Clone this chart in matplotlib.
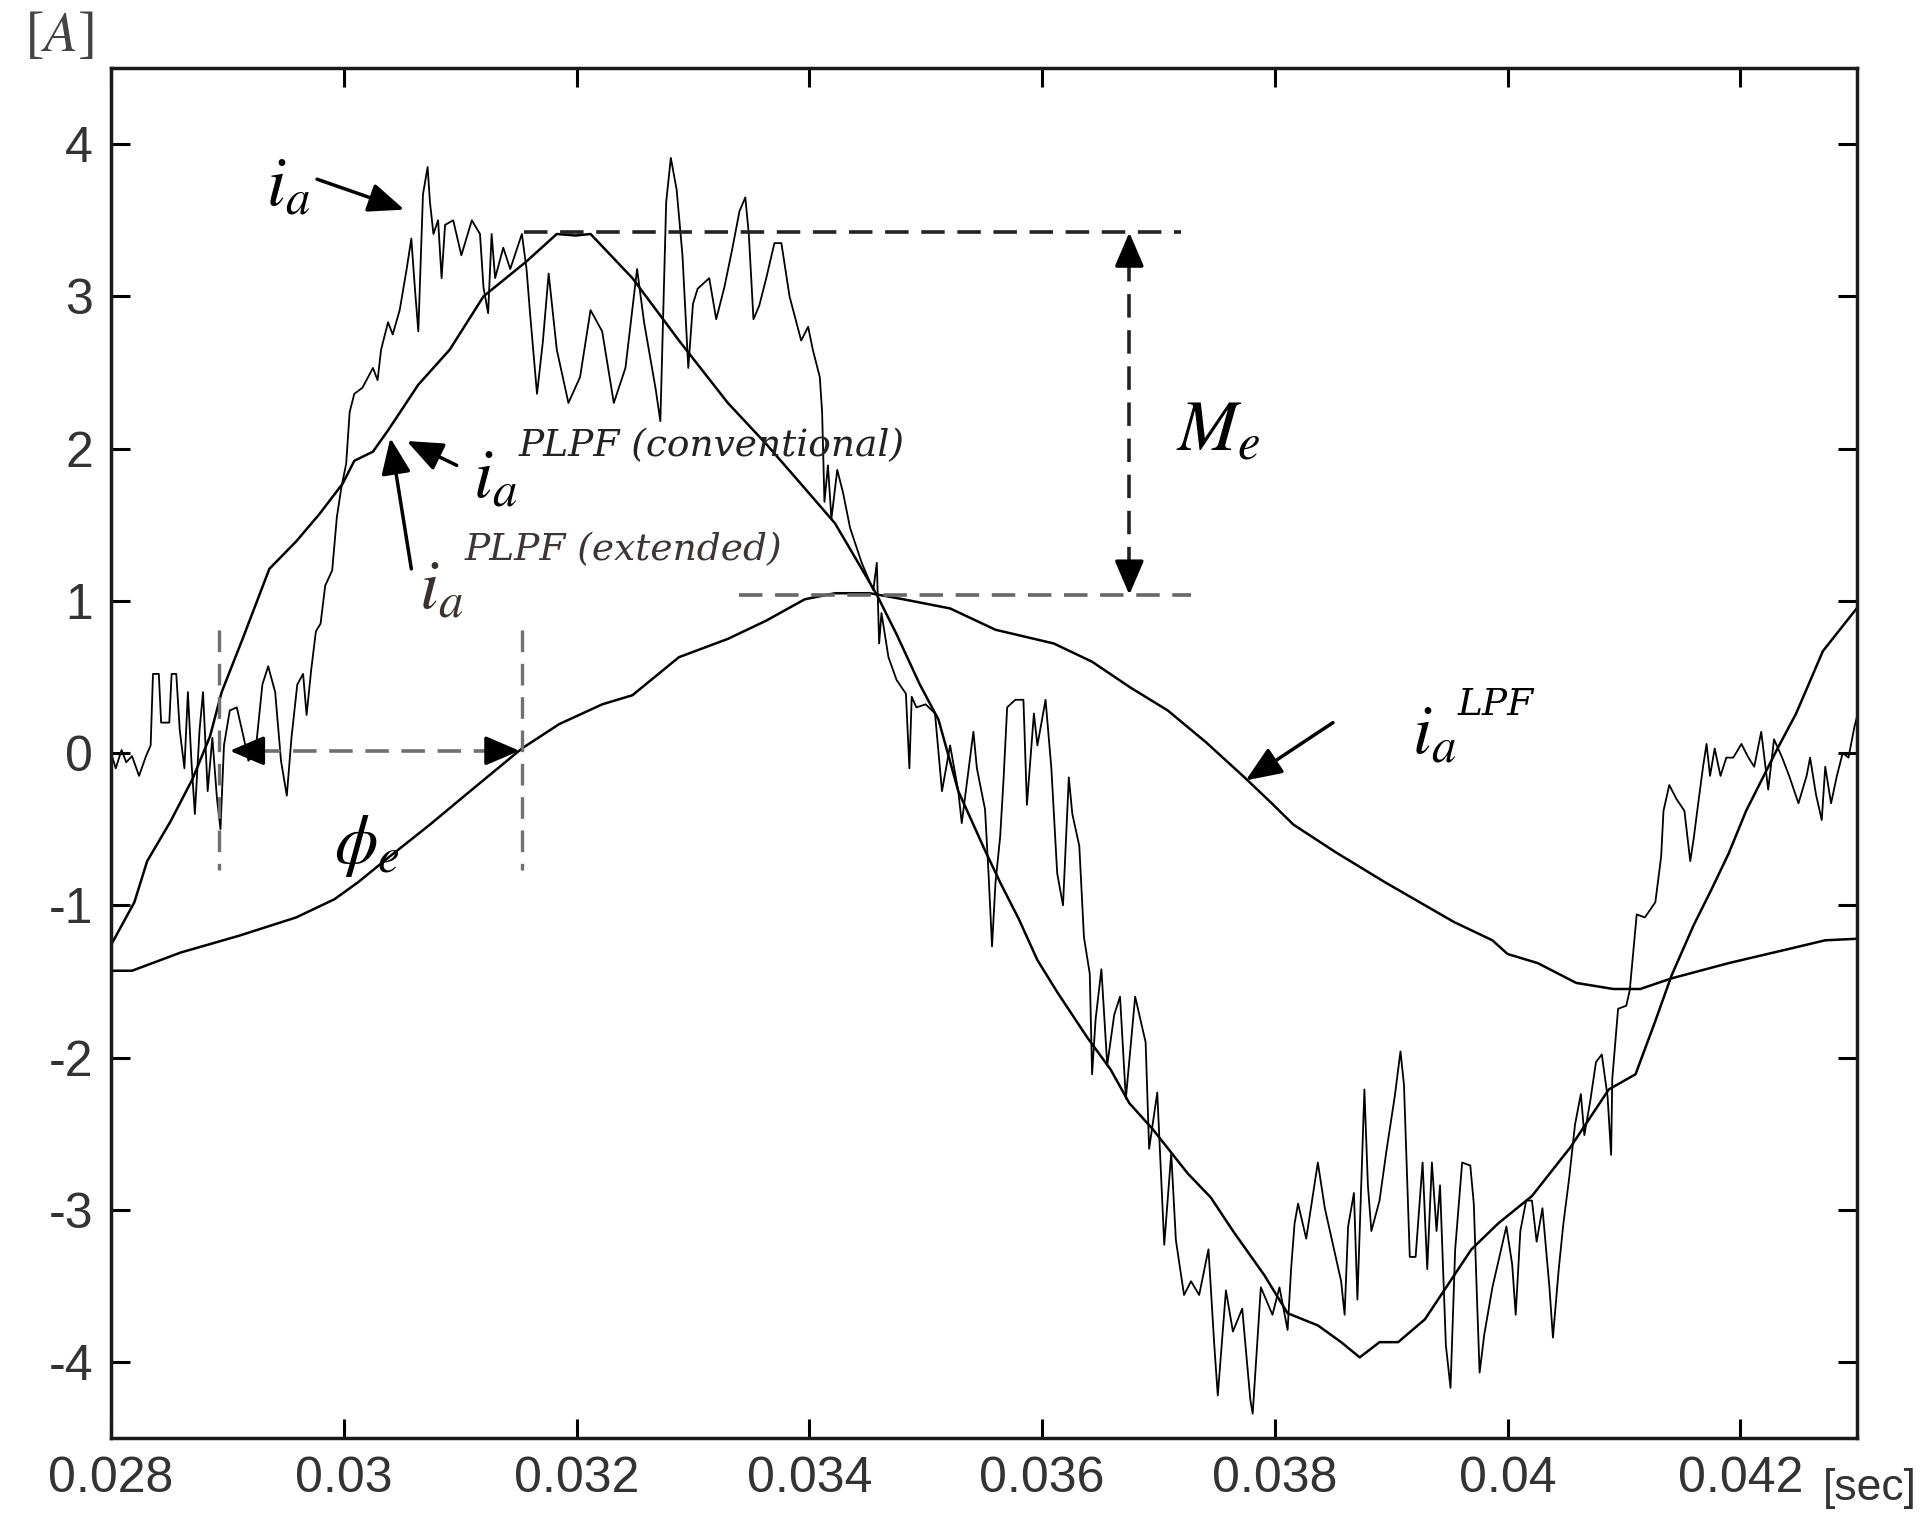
import matplotlib
matplotlib.use('Agg')
import matplotlib.pyplot as plt

plt.rcParams['mathtext.fontset'] = 'stix'
plt.rcParams['axes.unicode_minus'] = False

# measured phase current i_a (noisy)
ia_t = [0.02800, 0.02804, 0.02809, 0.02813, 0.02818, 0.02824, 0.02830, 0.02834, 0.02836, 0.02841,
        0.02843, 0.02850, 0.02852, 0.02856, 0.02859, 0.02863, 0.02866, 0.02869, 0.02872, 0.02876,
        0.02879, 0.02883, 0.02887, 0.02891, 0.02894, 0.02897, 0.02902, 0.02908, 0.02914, 0.02918,
        0.02924, 0.02930, 0.02935, 0.02941, 0.02946, 0.02951, 0.02955, 0.02960, 0.02965, 0.02968,
        0.02972, 0.02976, 0.02980, 0.02984, 0.02990, 0.02994, 0.02998, 0.03002, 0.03005, 0.03009,
        0.03016, 0.03025, 0.03029, 0.03032, 0.03038, 0.03042, 0.03048, 0.03054, 0.03058, 0.03061,
        0.03064, 0.03068, 0.03072, 0.03074, 0.03077, 0.03081, 0.03084, 0.03087, 0.03094, 0.03101,
        0.03110, 0.03117, 0.03120, 0.03124, 0.03127, 0.03130, 0.03137, 0.03143, 0.03153, 0.03157,
        0.03160, 0.03166, 0.03171, 0.03176, 0.03183, 0.03193, 0.03203, 0.03212, 0.03222, 0.03232,
        0.03242, 0.03252, 0.03258, 0.03268, 0.03272, 0.03277, 0.03281, 0.03286, 0.03291, 0.03296,
        0.03300, 0.03304, 0.03314, 0.03320, 0.03327, 0.03334, 0.03340, 0.03345, 0.03348, 0.03352,
        0.03357, 0.03363, 0.03370, 0.03376, 0.03383, 0.03393, 0.03399, 0.03403, 0.03409, 0.03411,
        0.03413, 0.03416, 0.03419, 0.03424, 0.03429, 0.03435, 0.03445, 0.03455, 0.03458, 0.03460,
        0.03462, 0.03468, 0.03475, 0.03483, 0.03486, 0.03488, 0.03492, 0.03500, 0.03508, 0.03514,
        0.03521, 0.03528, 0.03531, 0.03541, 0.03544, 0.03551, 0.03554, 0.03557, 0.03560, 0.03564,
        0.03567, 0.03570, 0.03577, 0.03584, 0.03587, 0.03593, 0.03596, 0.03603, 0.03608, 0.03613,
        0.03618, 0.03623, 0.03626, 0.03632, 0.03636, 0.03641, 0.03643, 0.03646, 0.03651, 0.03656,
        0.03662, 0.03667, 0.03672, 0.03680, 0.03689, 0.03692, 0.03699, 0.03705, 0.03711, 0.03715,
        0.03722, 0.03728, 0.03735, 0.03743, 0.03748, 0.03751, 0.03758, 0.03764, 0.03772, 0.03779,
        0.03781, 0.03788, 0.03798, 0.03804, 0.03811, 0.03814, 0.03817, 0.03820, 0.03827, 0.03834,
        0.03837, 0.03843, 0.03857, 0.03860, 0.03863, 0.03868, 0.03871, 0.03877, 0.03880, 0.03883,
        0.03890, 0.03896, 0.03903, 0.03908, 0.03911, 0.03916, 0.03921, 0.03927, 0.03931, 0.03935,
        0.03939, 0.03942, 0.03947, 0.03951, 0.03955, 0.03961, 0.03968, 0.03971, 0.03974, 0.03976,
        0.03980, 0.03987, 0.03999, 0.04004, 0.04007, 0.04011, 0.04016, 0.04021, 0.04025, 0.04030,
        0.04036, 0.04039, 0.04044, 0.04048, 0.04053, 0.04058, 0.04063, 0.04066, 0.04071, 0.04076,
        0.04081, 0.04086, 0.04089, 0.04090, 0.04095, 0.04102, 0.04105, 0.04111, 0.04118, 0.04127,
        0.04132, 0.04134, 0.04139, 0.04145, 0.04152, 0.04157, 0.04160, 0.04163, 0.04168, 0.04171,
        0.04174, 0.04178, 0.04183, 0.04188, 0.04194, 0.04201, 0.04207, 0.04212, 0.04218, 0.04224,
        0.04229, 0.04236, 0.04242, 0.04250, 0.04257, 0.04260, 0.04265, 0.04270, 0.04273, 0.04278,
        0.04283, 0.04288, 0.04293, 0.04298, 0.04300]
ia_v = [0.00, -0.10, 0.02, -0.06, -0.02, -0.15, -0.02, 0.05, 0.52, 0.52,
        0.20, 0.20, 0.52, 0.52, 0.15, -0.10, 0.40, -0.05, -0.40, 0.15,
        0.40, -0.25, 0.10, -0.30, -0.50, 0.05, 0.28, 0.30, 0.10, -0.05,
        0.00, 0.45, 0.57, 0.40, -0.05, -0.28, 0.10, 0.45, 0.52, 0.25,
        0.55, 0.80, 0.85, 1.10, 1.20, 1.55, 1.75, 1.90, 2.24, 2.36,
        2.40, 2.53, 2.45, 2.65, 2.83, 2.75, 2.91, 3.18, 3.38, 3.06,
        2.77, 3.67, 3.85, 3.62, 3.41, 3.50, 3.12, 3.47, 3.50, 3.27,
        3.50, 3.41, 3.06, 2.89, 3.41, 3.12, 3.32, 3.18, 3.41, 3.18,
        2.89, 2.36, 2.70, 3.15, 2.65, 2.30, 2.47, 2.91, 2.77, 2.30,
        2.53, 3.18, 2.83, 2.39, 2.18, 3.62, 3.91, 3.70, 3.27, 2.53,
        2.95, 3.05, 3.12, 2.85, 3.06, 3.32, 3.56, 3.65, 3.41, 2.85,
        2.94, 3.12, 3.35, 3.35, 3.00, 2.71, 2.80, 2.65, 2.47, 2.24,
        1.65, 1.89, 1.54, 1.86, 1.71, 1.48, 1.25, 1.07, 1.25, 0.72,
        0.92, 0.63, 0.48, 0.39, -0.10, 0.37, 0.30, 0.32, 0.26, -0.25,
        0.05, -0.25, -0.46, 0.14, -0.10, -0.37, -0.79, -1.27, -0.85, -0.55,
        -0.16, 0.30, 0.35, 0.35, -0.34, 0.26, 0.05, 0.35, -0.10, -0.79,
        -1.00, -0.16, -0.40, -0.61, -1.21, -1.45, -2.11, -1.75, -1.42, -2.05,
        -1.72, -1.60, -2.27, -1.60, -1.90, -2.60, -2.23, -3.23, -2.63, -3.20,
        -3.56, -3.47, -3.56, -3.26, -3.89, -4.22, -3.53, -3.80, -3.65, -4.25,
        -4.34, -3.51, -3.69, -3.51, -3.79, -3.39, -3.09, -2.96, -3.19, -2.84,
        -2.69, -2.99, -3.47, -3.69, -3.11, -2.89, -3.59, -2.21, -2.84, -3.14,
        -2.94, -2.61, -2.26, -1.96, -2.18, -3.31, -3.31, -2.69, -3.39, -2.69,
        -3.14, -2.84, -3.89, -4.17, -3.26, -2.69, -2.71, -2.96, -3.64, -4.07,
        -3.82, -3.51, -3.11, -3.36, -3.69, -3.14, -2.94, -2.94, -3.21, -2.99,
        -3.51, -3.84, -3.39, -3.09, -2.79, -2.44, -2.24, -2.51, -2.29, -2.03,
        -1.98, -2.26, -2.64, -2.14, -1.68, -1.66, -1.56, -1.06, -1.08, -0.98,
        -0.68, -0.38, -0.21, -0.30, -0.38, -0.71, -0.56, -0.38, -0.09, 0.06,
        -0.15, 0.03, -0.15, -0.03, -0.03, 0.06, -0.03, -0.09, 0.14, -0.24,
        0.09, -0.03, -0.15, -0.33, -0.15, -0.03, -0.27, -0.44, -0.09, -0.33,
        -0.15, 0.00, -0.03, 0.17, 0.23]

# i_a^PLPF (conventional / extended, overlapping)
plpf_t = [0.02800, 0.02820, 0.02831, 0.02851, 0.02870, 0.02885, 0.02895, 0.02913, 0.02936, 0.02959,
          0.02979, 0.02999, 0.03009, 0.03025, 0.03038, 0.03064, 0.03091, 0.03120, 0.03157, 0.03183,
          0.03199, 0.03212, 0.03248, 0.03288, 0.03330, 0.03363, 0.03396, 0.03422, 0.03442, 0.03458,
          0.03475, 0.03495, 0.03511, 0.03528, 0.03551, 0.03564, 0.03580, 0.03596, 0.03613, 0.03639,
          0.03659, 0.03675, 0.03695, 0.03725, 0.03745, 0.03765, 0.03791, 0.03811, 0.03837, 0.03857,
          0.03873, 0.03890, 0.03906, 0.03929, 0.03949, 0.03969, 0.03992, 0.04021, 0.04054, 0.04087,
          0.04110, 0.04127, 0.04141, 0.04160, 0.04175, 0.04190, 0.04205, 0.04232, 0.04248, 0.04271,
          0.04300]
plpf_v = [-1.26, -0.98, -0.71, -0.45, -0.17, 0.11, 0.40, 0.75, 1.21, 1.39,
          1.57, 1.77, 1.92, 1.98, 2.12, 2.42, 2.65, 3.00, 3.23, 3.41,
          3.40, 3.41, 3.12, 2.71, 2.30, 2.03, 1.74, 1.51, 1.25, 1.04,
          0.78, 0.45, 0.22, -0.25, -0.64, -0.85, -1.09, -1.36, -1.57, -1.87,
          -2.08, -2.30, -2.47, -2.76, -2.92, -3.15, -3.43, -3.68, -3.76, -3.87,
          -3.97, -3.87, -3.87, -3.72, -3.49, -3.26, -3.09, -2.91, -2.59, -2.21,
          -2.11, -1.76, -1.46, -1.13, -0.90, -0.66, -0.38, 0.03, 0.26, 0.67,
          0.95]

# i_a^LPF
lpf_t = [0.02800, 0.02818, 0.02860, 0.02910, 0.02959, 0.02992, 0.03012, 0.03041, 0.03074, 0.03107,
         0.03153, 0.03185, 0.03222, 0.03248, 0.03288, 0.03330, 0.03363, 0.03396, 0.03422, 0.03452,
         0.03481, 0.03521, 0.03560, 0.03610, 0.03643, 0.03676, 0.03708, 0.03741, 0.03774, 0.03796,
         0.03816, 0.03852, 0.03895, 0.03954, 0.03987, 0.04000, 0.04026, 0.04059, 0.04091, 0.04114,
         0.04141, 0.04190, 0.04240, 0.04273, 0.04300]
lpf_v = [-1.43, -1.43, -1.31, -1.20, -1.08, -0.96, -0.85, -0.67, -0.47, -0.26,
         0.03, 0.19, 0.32, 0.38, 0.63, 0.75, 0.87, 1.01, 1.05, 1.05,
         1.01, 0.95, 0.81, 0.72, 0.60, 0.43, 0.28, 0.07, -0.16, -0.32,
         -0.47, -0.65, -0.85, -1.11, -1.23, -1.32, -1.38, -1.51, -1.55, -1.55,
         -1.48, -1.38, -1.29, -1.23, -1.22]

x_ticks = [0.028, 0.030, 0.032, 0.034, 0.036, 0.038, 0.040, 0.042]
x_labels = ['0.028', '0.03', '0.032', '0.034', '0.036', '0.038', '0.04', '0.042']
y_ticks = [-4, -3, -2, -1, 0, 1, 2, 3, 4]

fig = plt.figure(figsize=(19.32, 15.4), dpi=100)
ax = fig.add_axes([0.0575, 0.0662, 0.9035, 0.8896])

ax.plot(ia_t, ia_v, color='k', lw=1.3)
ax.plot(plpf_t, plpf_v, color='k', lw=1.8)
ax.plot(lpf_t, lpf_v, color='k', lw=1.8)

ax.set_xlim(0.028, 0.043)
ax.set_ylim(-4.5, 4.5)
ax.set_xticks(x_ticks)
ax.set_xticklabels(x_labels)
ax.set_yticks(y_ticks)
ax.set_yticklabels([str(v) for v in y_ticks])
ax.tick_params(direction='in', length=14, width=2.2, top=True, right=True,
               labelsize=36, labelcolor='#333333', pad=13)
for lab in ax.get_xticklabels() + ax.get_yticklabels():
    lab.set_family('Liberation Sans')
for sp in ax.spines.values():
    sp.set_linewidth(2.5)
    sp.set_color('#1a1a1a')

# --- M_e annotation ---
dash = (6.5, 3.5)
ax.plot([0.03155, 0.03719], [3.42, 3.42], color='#222222', lw=2.6, dashes=dash)
ax.plot([0.03340, 0.03728], [1.04, 1.04], color='#666666', lw=2.6, dashes=dash)
ax.plot([0.03675, 0.03675], [3.25, 1.20], color='#222222', lw=2.6, dashes=dash)
head = dict(arrowstyle='-|>,head_length=2.1,head_width=0.9', color='k', lw=2.5,
            mutation_scale=10, shrinkA=0, shrinkB=0)
ax.annotate('', xy=(0.03675, 3.42), xytext=(0.03675, 3.25), arrowprops=head)
ax.annotate('', xy=(0.03675, 1.04), xytext=(0.03675, 1.21), arrowprops=head)
ax.text(0.03715, 1.99, r'$M_e$', fontsize=52, va='baseline', ha='left')

# --- phase annotation ---
ax.plot([0.02893, 0.02893], [0.81, -0.77], color='#707070', lw=2.4, dashes=dash)
ax.plot([0.03153, 0.03153], [0.81, -0.77], color='#707070', lw=2.4, dashes=dash)
ax.plot([0.02925, 0.03125], [0.015, 0.015], color='#707070', lw=2.6, dashes=dash)
ax.annotate('', xy=(0.02902, 0.015), xytext=(0.02930, 0.015), arrowprops=head)
ax.annotate('', xy=(0.03151, 0.015), xytext=(0.03123, 0.015), arrowprops=head)
ax.text(0.0302, -0.61, r'$\phi_e$', fontsize=50, ha='center', va='center')

# --- curve labels ---
arr = dict(arrowstyle='-|>,head_length=2.2,head_width=0.9', color='k', lw=2.5,
           mutation_scale=10, shrinkA=0, shrinkB=0)
ax.annotate('', xy=(0.03052, 3.57), xytext=(0.02977, 3.77), arrowprops=arr)
ax.text(0.02933, 3.60, r'$i_a$', fontsize=50, va='baseline', ha='left')

ax.annotate('', xy=(0.03054, 2.05), xytext=(0.03097, 1.89), arrowprops=arr)
ax.text(0.03111, 1.68, r'$i_a$', fontsize=50, va='baseline', ha='left')
ax.text(0.03150, 1.95, 'PLPF (conventional)', fontsize=27, family='DejaVu Serif',
        style='italic', va='baseline', ha='left', color='#222222')

ax.annotate('', xy=(0.03040, 2.07), xytext=(0.03058, 1.21), arrowprops=arr)
ax.text(0.03065, 0.95, r'$i_a$', fontsize=50, va='baseline', ha='left', color='#3a3030')
ax.text(0.03104, 1.27, 'PLPF (extended)', fontsize=27, family='DejaVu Serif',
        style='italic', va='baseline', ha='left', color='#3d3535')

ax.annotate('', xy=(0.03775, -0.18), xytext=(0.03850, 0.20), arrowprops=arr)
ax.text(0.03918, 0.00, r'$i_a$', fontsize=50, va='baseline', ha='left')
ax.text(0.03957, 0.25, 'LPF', fontsize=27, family='DejaVu Serif',
        style='italic', va='baseline', ha='left')

# axis unit labels
fig.text(0.013, 0.993, r'[$A$]', fontsize=40, family='Liberation Serif',
         va='top', ha='left', color='#444444')
fig.text(1823 / 1932, 1 - 1509 / 1540, '[sec]', fontsize=32,
         family=['Liberation Sans Narrow', 'Liberation Sans'], va='bottom', ha='left',
         color='#333333')

fig.savefig('out.png', dpi=100)
